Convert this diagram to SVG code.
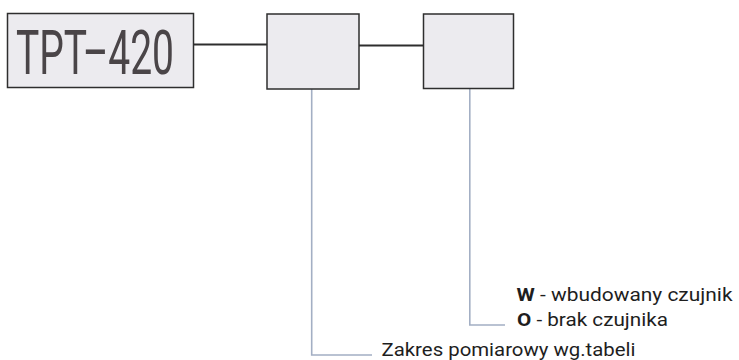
<svg xmlns="http://www.w3.org/2000/svg" width="739" height="360" viewBox="0 0 739 360">
<style>
.box{fill:#ecebef;stroke:#2e2e2e;stroke-width:1.5}
.main{stroke:#2e2e2e;stroke-width:2.2;fill:none}
.lead{stroke:#a3afc4;stroke-width:1.6;fill:none}
.lbl{font-family:Roboto,"Liberation Sans",sans-serif;font-size:19px;fill:#1e1e1e}
.big{font-family:Roboto,"Liberation Sans",sans-serif;font-size:62px;fill:#4a4548}
</style>
<rect width="739" height="360" fill="#ffffff"/>
<g id="connectors">
<line class="main" x1="193.5" y1="44.5" x2="267" y2="44.5"/>
<line class="main" x1="359" y1="45.5" x2="423.5" y2="45.5"/>
<polyline class="lead" points="311.7,89 311.7,355 372,355"/>
<polyline class="lead" points="469.8,89 469.8,325 505,325"/>
</g>
<g id="node-tpt">
<rect class="box" x="7.5" y="13.5" width="186" height="74"/>
<text class="big" x="16" y="74" textLength="158" lengthAdjust="spacingAndGlyphs">TPT–420</text>
</g>
<g id="node-range">
<rect class="box" x="267" y="14" width="92" height="75"/>
</g>
<g id="node-sensor">
<rect class="box" x="423.5" y="14" width="90" height="74.5"/>
</g>
<g id="labels">
<text class="lbl" x="516.5" y="301" textLength="216" lengthAdjust="spacingAndGlyphs"><tspan font-weight="bold">W</tspan> - wbudowany czujnik</text>
<text class="lbl" x="517" y="325.5" textLength="151" lengthAdjust="spacingAndGlyphs"><tspan font-weight="bold">O</tspan> - brak czujnika</text>
<text class="lbl" x="381.5" y="356" textLength="254" lengthAdjust="spacingAndGlyphs">Zakres pomiarowy wg.tabeli</text>
</g>
</svg>
